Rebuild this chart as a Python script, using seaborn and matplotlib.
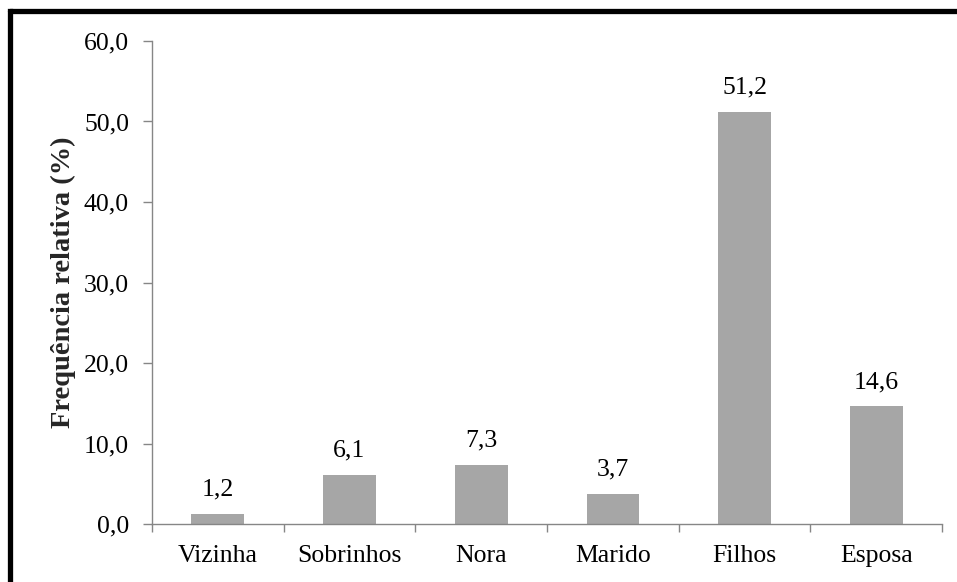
import matplotlib
matplotlib.use("Agg")
import matplotlib.pyplot as plt
import matplotlib.lines as mlines
import seaborn as sns
import pandas as pd
import numpy as np

categorias = ["Vizinha", "Sobrinhos", "Nora", "Marido", "Filhos", "Esposa"]
frequencias = [1.2, 6.1, 7.3, 3.7, 51.2, 14.6]
rotulos_y = ["0,0", "10,0", "20,0", "30,0", "40,0", "50,0", "60,0"]
valores_y = [0, 10, 20, 30, 40, 50, 60]

sns.set_theme(style="white")
plt.rcParams["font.family"] = ["Liberation Serif", "DejaVu Serif"]

df = pd.DataFrame({"categoria": categorias, "freq": frequencias})

fig = plt.figure(figsize=(9.57, 5.82), dpi=100)
ax = fig.add_axes([152 / 957, 1 - 524 / 582, (942 - 152) / 957, (524 - 41) / 582])

sns.barplot(data=df, x="categoria", y="freq", color="#A6A6A6", width=0.4,
            saturation=1, ax=ax, edgecolor="none")

fs = 18.5
axis_gray = "#868686"
ax.set_ylim(0, 60)
ax.set_xlim(-0.5, len(categorias) - 0.5)
ax.set_yticks(valores_y)
ax.set_yticklabels(rotulos_y, fontsize=fs, color="black")
ax.set_xticks(range(len(categorias)))
ax.set_xticklabels(categorias, fontsize=fs, color="black")
ax.set_xticks(np.arange(-0.5, len(categorias)), minor=True)
ax.tick_params(axis="x", which="major", length=0, pad=15)
ax.tick_params(axis="x", which="minor", length=5.5, width=1, color=axis_gray, direction="out", bottom=True)
ax.tick_params(axis="y", length=6.5, width=1, color=axis_gray, direction="out", left=True, pad=10)

for s in ["top", "right"]:
    ax.spines[s].set_visible(False)
for s in ["left", "bottom"]:
    ax.spines[s].set_color(axis_gray)
    ax.spines[s].set_linewidth(1)

ax.set_xlabel("")
ax.set_ylabel("Frequência relativa (%)", fontsize=20.5, fontweight="bold", labelpad=6)

for i, v in enumerate(frequencias):
    ax.text(i, v + 2.3, f"{v:.1f}".replace(".", ","), ha="center", va="baseline",
            fontsize=fs, color="black")

# moldura preta (topo e lado esquerdo)
fig.add_artist(mlines.Line2D([10 / 957, 1.0], [1 - 11 / 582, 1 - 11 / 582],
                             color="black", linewidth=3.8, transform=fig.transFigure))
fig.add_artist(mlines.Line2D([10 / 957, 10 / 957], [0, 1 - 11 / 582],
                             color="black", linewidth=3.8, transform=fig.transFigure,
                             solid_capstyle="projecting"))

fig.savefig("out.png", dpi=100)
